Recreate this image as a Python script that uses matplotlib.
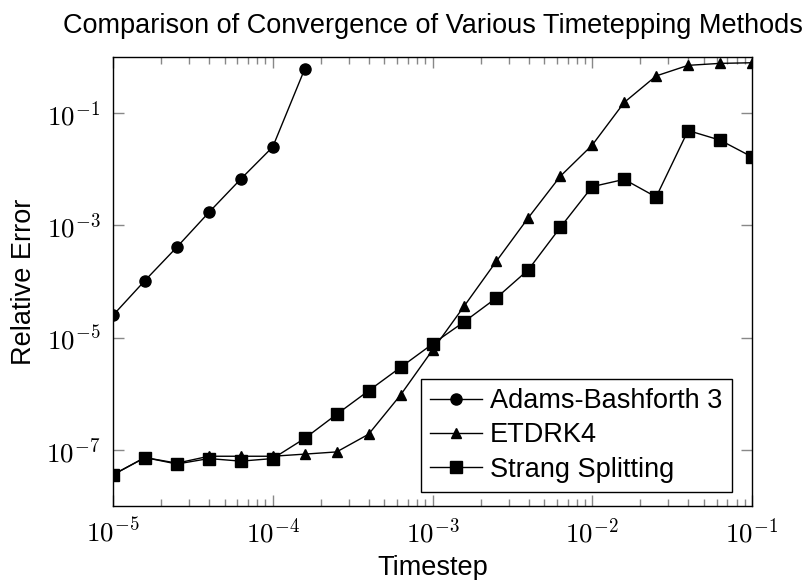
import numpy as np
import matplotlib
matplotlib.use("Agg")
import matplotlib.pyplot as plt

# timestep values (5 per decade)
dt = [10 ** (-5 + 0.2 * k) for k in range(21)]

ab3_dt = dt[:7]
ab3_err = [2.5e-5, 1.04e-4, 4.1e-4, 1.7e-3, 6.7e-3, 2.5e-2, 0.61]

etd_err = [3.6e-8, 7.3e-8, 5.8e-8, 7.7e-8, 7.7e-8, 7.7e-8, 8.4e-8, 9.2e-8,
           1.9e-7, 9.5e-7, 6.0e-6, 3.7e-5, 2.3e-4, 1.37e-3, 7.5e-3, 2.7e-2,
           0.155, 0.46, 0.71, 0.77, 0.79]

strang_err = [3.6e-8, 7.3e-8, 5.6e-8, 7.0e-8, 6.3e-8, 7.0e-8, 1.6e-7, 4.3e-7,
              1.13e-6, 2.95e-6, 7.7e-6, 1.93e-5, 5.1e-5, 1.62e-4, 9.2e-4,
              4.9e-3, 6.6e-3, 3.2e-3, 4.9e-2, 3.3e-2, 1.66e-2]

plt.rcParams['font.family'] = ['Liberation Sans', 'DejaVu Sans']
plt.rcParams['mathtext.fontset'] = 'cm'

fig = plt.figure(figsize=(8.06, 5.8), dpi=100)
ax = fig.add_axes([113/806, 1-506/580, 639/806, 449/580])

ax.plot(ab3_dt, ab3_err, '-o', color='black', lw=1, ms=8, label='Adams-Bashforth 3')
ax.plot(dt, etd_err, '-^', color='black', lw=1, ms=7, label='ETDRK4')
ax.plot(dt, strang_err, '-s', color='black', lw=1, ms=8, label='Strang Splitting')

ax.set_xscale('log')
ax.set_yscale('log')
ax.set_xlim(1e-5, 1e-1)
ax.set_ylim(1e-8, 1)
ax.set_xticks([1e-5, 1e-4, 1e-3, 1e-2, 1e-1])
ax.set_xticklabels([r'$10^{-5}$', r'$10^{-4}$', r'$10^{-3}$', r'$10^{-2}$', r'$10^{-1}$'])
ax.set_yticks([1e-7, 1e-5, 1e-3, 1e-1])
ax.set_yticklabels([r'$10^{-7}$', r'$10^{-5}$', r'$10^{-3}$', r'$10^{-1}$'])
ax.yaxis.set_minor_locator(matplotlib.ticker.NullLocator())
ax.xaxis.set_minor_locator(matplotlib.ticker.LogLocator(base=10, subs=np.arange(2, 10)))
ax.xaxis.set_minor_formatter(matplotlib.ticker.NullFormatter())

ax.tick_params(which='both', direction='in', top=True, right=True, color='#888888', labelsize=19.5, pad=9)
ax.tick_params(which='major', length=8, width=1)
ax.tick_params(which='minor', length=5, width=1)
for s in ax.spines.values():
    s.set_linewidth(1)

ax.set_xlabel('Timestep', fontsize=19.5, labelpad=5)
ax.set_ylabel('Relative Error', fontsize=19.5, labelpad=7)
ax.set_title('Comparison of Convergence of Various Timetepping Methods', fontsize=19.5, pad=17)

leg = ax.legend(loc='lower right', bbox_to_anchor=(0.968, 0.031), fontsize=19.5,
                fancybox=False, edgecolor='black', framealpha=1,
                handlelength=1.9, handletextpad=0.3, borderpad=0.35, labelspacing=0.3,
                borderaxespad=0)
leg.get_frame().set_linewidth(1)

fig.savefig('out.png', dpi=100)
